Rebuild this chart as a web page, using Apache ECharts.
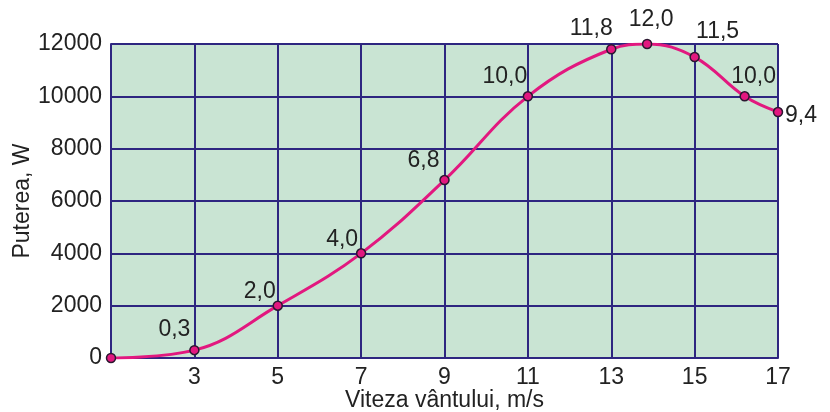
<!DOCTYPE html>
<html>
<head>
<meta charset="utf-8">
<script src="https://cdn.jsdelivr.net/npm/echarts@6/dist/echarts.min.js"></script>
<style>html,body{margin:0;padding:0;background:#fff;}#c{width:830px;height:412px;}</style>
</head>
<body>
<div id="c"></div>
<script>
// Data
const windSpeed = [1, 3, 5, 7, 9, 11, 13, 13.86, 15, 16.2, 17];
const powerW    = [0, 300, 2000, 4000, 6800, 10000, 11800, 12000, 11500, 10000, 9400];
const pointLabels = ['', '0,3', '2,0', '4,0', '6,8', '10,0', '11,8', '12,0', '11,5', '10,0', '9,4'];
const xTicks = [3, 5, 7, 9, 11, 13, 15, 17];
const yTicks = [0, 2000, 4000, 6000, 8000, 10000, 12000];
const xName = 'Viteza vântului, m/s';
const yName = 'Puterea, W';

// label offsets (layout only)
const labelOffsets = [[0,0],[-20,-20],[-18,-14],[-19,-14],[-21,-19],[-23,-20],[-20,-21],[4,-24],[23,-25],[9,-20],[23,4]];

const FONT = '"Liberation Sans", Arial, sans-serif';
const GRIDC = '#2e2680';
const chart = echarts.init(document.getElementById('c'));
chart.setOption({
  animation: false,
  grid: { left: 111, right: 52, top: 44, bottom: 54, show: true, backgroundColor: '#c9e4d3', borderWidth: 0,
    containLabel: false, outerBoundsMode: 'none' },
  xAxis: {
    type: 'value', min: 1, max: 17, interval: 2,
    name: xName, nameLocation: 'middle', nameGap: 31, nameMoveOverlap: false,
    nameTextStyle: { fontFamily: FONT, fontSize: 23, color: '#222' },
    axisLine: { show: true, lineStyle: { color: GRIDC, width: 2 } },
    axisTick: { show: false },
    axisLabel: { fontFamily: FONT, fontSize: 23, color: '#222', margin: 8,
      formatter: v => xTicks.indexOf(v) >= 0 ? String(v) : '' },
    splitLine: { show: true, lineStyle: { color: GRIDC, width: 2 } }
  },
  yAxis: {
    type: 'value', min: 0, max: 12000, interval: 2000,
    name: yName, nameLocation: 'middle', nameGap: 77, nameMoveOverlap: false,
    nameTextStyle: { fontFamily: FONT, fontSize: 23, color: '#222' },
    axisLine: { show: true, lineStyle: { color: GRIDC, width: 2 } },
    axisTick: { show: false },
    axisLabel: { fontFamily: FONT, fontSize: 23, color: '#222', margin: 9,
      formatter: v => yTicks.indexOf(v) >= 0 ? String(v) : '' },
    splitLine: { show: true, lineStyle: { color: GRIDC, width: 2 } }
  },
  series: [{
    type: 'line',
    smooth: 0.4,
    data: windSpeed.map((x, i) => ({
      value: [x, powerW[i]],
      label: { show: pointLabels[i] !== '', formatter: pointLabels[i], offset: labelOffsets[i] }
    })),
    lineStyle: { color: '#e2187f', width: 3 },
    symbol: 'circle', symbolSize: 9,
    itemStyle: { color: '#e2187f', borderColor: '#2a1830', borderWidth: 1.5 },
    label: { position: 'inside', align: 'center', verticalAlign: 'middle',
      fontFamily: FONT, fontSize: 23, color: '#222' },
    z: 5
  }]
});
</script>
</body>
</html>
